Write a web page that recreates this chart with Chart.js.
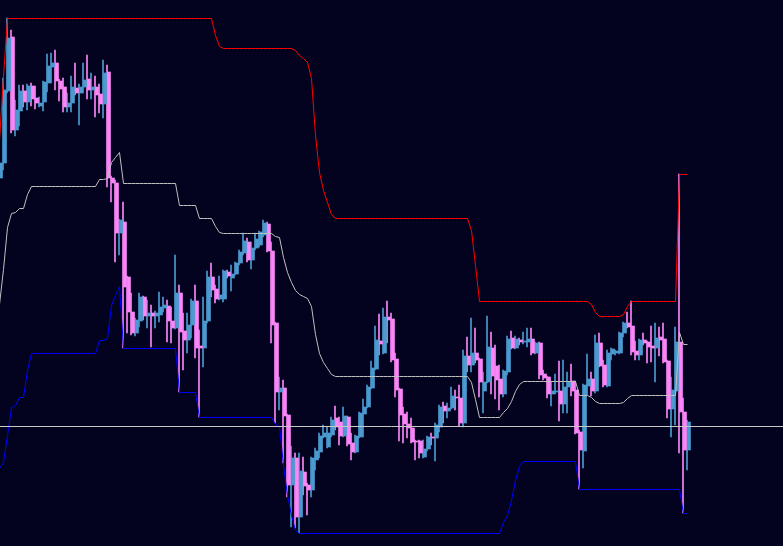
<!DOCTYPE html>
<html>
<head>
<meta charset="utf-8">
<title>Price channel</title>
<script src="https://cdn.jsdelivr.net/npm/chart.js@4.4.1/dist/chart.umd.min.js"></script>
<style>
  html, body { margin: 0; padding: 0; background: #03031f; overflow: hidden; }
  #wrap { width: 783px; height: 546px; }
</style>
</head>
<body>
<div id="wrap"><canvas id="chart" width="783" height="546"></canvas></div>
<script>
// ---- Data (price in points, one entry per bar, oldest first) ----
const opens = [
  368, 383, 455, 509, 416, 435, 455, 444, 460, 448,
  440, 444, 463, 479, 483, 465, 459, 439, 443, 458,
  453, 459, 467, 456, 459, 452, 442, 474, 368, 363,
  313, 324, 269, 234, 213, 225, 249, 230, 233, 230,
  231, 238, 240, 225, 218, 253, 215, 206, 221, 245,
  200, 198, 225, 269, 257, 247, 247, 274, 268, 272,
  283, 293, 304, 286, 298, 301, 311, 322, 295, 223,
  154, 158, 131, 61, 88, 29, 74, 61, 56, 86,
  94, 109, 99, 111, 128, 124, 110, 129, 103, 94,
  109, 132, 139, 158, 177, 205, 193, 229, 227, 187,
  157, 132, 122, 118, 105, 105, 89, 97, 109, 108,
  119, 140, 135, 138, 149, 148, 123, 190, 181, 193,
  187, 155, 164, 198, 180, 167, 152, 174, 208, 198,
  206, 204, 204, 207, 193, 203, 172, 169, 152, 154,
  155, 142, 159, 165, 156, 114, 95, 160, 167, 155,
  203, 181, 160, 192, 193, 193, 213, 223, 220, 195,
  191, 206, 204, 200, 198, 209, 207, 185, 137, 155,
  204, 134, 96
];
const highs = [
  386, 468, 528, 516, 446, 461, 461, 462, 463, 460,
  449, 465, 492, 493, 496, 467, 468, 453, 470, 483,
  462, 483, 491, 473, 470, 462, 486, 481, 370, 366,
  327, 344, 270, 253, 228, 253, 250, 246, 241, 235,
  254, 249, 246, 239, 291, 261, 233, 233, 247, 261,
  216, 249, 275, 283, 261, 270, 276, 276, 281, 284,
  296, 313, 308, 304, 313, 315, 326, 324, 304, 224,
  169, 166, 132, 100, 93, 93, 89, 63, 89, 98,
  113, 121, 119, 129, 140, 129, 139, 130, 113, 111,
  134, 147, 161, 185, 220, 232, 238, 245, 233, 193,
  158, 139, 134, 128, 106, 106, 106, 110, 113, 123,
  141, 144, 143, 159, 156, 161, 196, 209, 228, 218,
  188, 174, 230, 214, 201, 181, 176, 210, 215, 210,
  208, 214, 218, 218, 204, 204, 176, 170, 165, 172,
  185, 186, 174, 182, 165, 116, 162, 192, 174, 211,
  213, 186, 196, 198, 196, 214, 224, 234, 245, 205,
  207, 213, 205, 220, 223, 219, 223, 186, 169, 219,
  372, 148, 126
];
const lows = [
  364, 376, 453, 413, 410, 420, 439, 436, 440, 437,
  439, 435, 454, 463, 456, 445, 434, 434, 434, 451,
  421, 453, 447, 447, 429, 433, 428, 359, 344, 284,
  291, 198, 213, 211, 210, 219, 226, 218, 199, 218,
  224, 234, 204, 203, 217, 154, 176, 193, 208, 188,
  129, 179, 223, 249, 243, 246, 244, 268, 255, 271,
  281, 291, 284, 277, 296, 299, 309, 294, 203, 123,
  136, 83, 49, 19, 18, 13, 51, 31, 49, 76,
  88, 108, 98, 109, 116, 101, 109, 100, 86, 93,
  108, 109, 138, 157, 176, 191, 192, 203, 184, 149,
  105, 103, 108, 103, 86, 88, 88, 95, 101, 85,
  114, 123, 128, 137, 136, 120, 119, 174, 174, 183,
  149, 133, 163, 152, 147, 136, 149, 171, 197, 197,
  201, 202, 199, 191, 192, 167, 166, 148, 140, 152,
  125, 133, 133, 150, 112, 57, 78, 151, 150, 153,
  179, 159, 159, 186, 191, 192, 209, 218, 191, 186,
  186, 201, 183, 184, 164, 190, 183, 128, 109, 121,
  93, 33, 76
];
const closes = [
  383, 456, 508, 416, 436, 455, 444, 460, 447, 443,
  443, 464, 480, 483, 465, 457, 439, 443, 459, 453,
  459, 466, 456, 459, 451, 442, 473, 368, 363, 313,
  326, 259, 234, 213, 226, 249, 230, 233, 230, 233,
  239, 241, 225, 218, 253, 214, 206, 221, 245, 198,
  198, 225, 269, 256, 247, 251, 275, 270, 272, 283,
  294, 305, 286, 298, 307, 314, 323, 295, 221, 154,
  158, 130, 61, 88, 29, 75, 60, 56, 88, 95,
  110, 113, 113, 126, 119, 110, 130, 102, 94, 110,
  133, 139, 159, 178, 206, 202, 229, 226, 186, 156,
  131, 122, 118, 104, 104, 93, 97, 109, 108, 121,
  139, 135, 138, 150, 148, 123, 190, 181, 193, 186,
  164, 164, 199, 170, 166, 152, 175, 207, 198, 207,
  204, 205, 207, 193, 203, 171, 168, 152, 155, 155,
  142, 159, 164, 155, 113, 96, 161, 167, 155, 203,
  180, 161, 193, 197, 195, 213, 223, 219, 194, 191,
  206, 203, 199, 198, 208, 206, 184, 137, 156, 204,
  134, 96, 124
];

// Channel bands as drawn
const upperBand = [
  406, 470, 528, 528, 528, 528, 528, 528, 528, 528,
  528, 528, 528, 528, 528, 528, 528, 528, 528, 528,
  528, 528, 528, 528, 528, 528, 528, 528, 528, 528,
  528, 528, 528, 528, 528, 528, 528, 528, 528, 528,
  528, 528, 528, 528, 528, 528, 528, 528, 528, 528,
  528, 528, 528, 528, 511, 500, 498, 498, 498, 498,
  498, 498, 498, 498, 498, 498, 498, 498, 498, 498,
  498, 498, 498, 498, 496, 491, 488, 484, 468, 411,
  374, 356, 344, 332, 328, 328, 328, 328, 328, 328,
  328, 328, 328, 328, 328, 328, 328, 328, 328, 328,
  328, 328, 328, 328, 328, 328, 328, 328, 328, 328,
  328, 328, 328, 328, 328, 328, 328, 328, 316, 281,
  245, 245, 245, 245, 245, 245, 245, 245, 245, 245,
  245, 245, 245, 245, 245, 245, 245, 245, 245, 245,
  245, 245, 245, 245, 245, 245, 245, 245, 242, 234,
  230, 230, 230, 230, 230, 230, 232, 240, 245, 245,
  245, 245, 245, 245, 245, 245, 245, 245, 245, 245,
  372, 372, 372
];
const lowerBand = [
  78, 84, 111, 139, 141, 149, 149, 176, 193, 193,
  193, 193, 193, 193, 193, 193, 193, 193, 193, 193,
  193, 193, 193, 193, 193, 206, 206, 208, 241, 251,
  260, 198, 198, 198, 198, 198, 198, 198, 198, 198,
  198, 198, 198, 198, 198, 154, 154, 154, 154, 154,
  129, 129, 129, 129, 129, 129, 129, 129, 129, 129,
  129, 129, 129, 129, 129, 129, 129, 129, 129, 122,
  120, 81, 51, 31, 16, 13, 13, 13, 13, 13,
  13, 13, 13, 13, 13, 13, 13, 13, 13, 13,
  13, 13, 13, 13, 13, 13, 13, 13, 13, 13,
  13, 13, 13, 13, 13, 13, 13, 13, 13, 13,
  13, 13, 13, 13, 13, 13, 13, 13, 13, 13,
  13, 13, 13, 13, 13, 13, 24, 31, 46, 66,
  80, 85, 85, 85, 85, 85, 85, 85, 85, 85,
  85, 85, 85, 85, 85, 57, 57, 57, 57, 57,
  57, 57, 57, 57, 57, 57, 57, 57, 57, 57,
  57, 57, 57, 57, 57, 57, 57, 57, 57, 57,
  57, 33, 33
];
const levelLine = 120;   // horizontal price level

// ---- Colours ----
const UP_COLOR  = '#4b9bd1';
const DN_COLOR  = '#fa86f8';
const UPPER_CLR = '#ff0000';
const LOWER_CLR = '#0000ff';
const MID_CLR   = '#c0c0c0';
const LEVEL_CLR = '#c8c8c8';

// visible window in bar units (4px per bar)
const X_MIN = 0.125;
const X_MAX = 195.875;

// ---- Build datasets ----
const barColors = opens.map((o, i) => closes[i] >= o ? UP_COLOR : DN_COLOR);
const bodies = opens.map((o, i) => ({ x: i, y: [o, closes[i]] }));
const wicks  = opens.map((_, i) => ({ x: i, y: [lows[i], highs[i]] }));
const upperPts = upperBand.map((v, i) => ({ x: i, y: v }));
const lowerPts = lowerBand.map((v, i) => ({ x: i, y: v }));
// middle line of the channel = average of the two bands (whole points)
const middlePts = upperBand.map((v, i) => ({ x: i, y: Math.floor((v + lowerBand[i]) / 2) }));
const levelPts = [{ x: X_MIN, y: levelLine }, { x: X_MAX, y: levelLine }];

const lineStyle = {
  type: 'line',
  xAxisID: 'x',
  yAxisID: 'yl',
  borderWidth: 1,
  pointRadius: 0,
  pointHitRadius: 0,
  tension: 0,
  fill: false,
};

new Chart(document.getElementById('chart'), {
  type: 'bar',
  data: {
    datasets: [
      {
        label: 'wicks',
        data: wicks,
        xAxisID: 'xw',
        yAxisID: 'y',
        backgroundColor: barColors,
        barThickness: 1,
        minBarLength: 1,
        borderWidth: 0,
        order: 4,
      },
      {
        label: 'bodies',
        data: bodies,
        xAxisID: 'x',
        yAxisID: 'y',
        backgroundColor: barColors,
        barThickness: 3,
        minBarLength: 1,
        borderWidth: 0,
        order: 3,
      },
      { ...lineStyle, label: 'upper', data: upperPts, borderColor: UPPER_CLR, order: 1 },
      { ...lineStyle, label: 'lower', data: lowerPts, borderColor: LOWER_CLR, order: 1 },
      { ...lineStyle, label: 'middle', data: middlePts, borderColor: MID_CLR, order: 1 },
      { ...lineStyle, label: 'level', data: levelPts, borderColor: LEVEL_CLR, order: 0 },
    ],
  },
  options: {
    responsive: false,
    maintainAspectRatio: false,
    animation: false,
    events: [],
    layout: { padding: 0 },
    plugins: { legend: { display: false }, tooltip: { enabled: false } },
    scales: {
      x:  { type: 'linear', axis: 'x', min: X_MIN, max: X_MAX, offset: false, display: false },
      xw: { type: 'linear', axis: 'x', min: X_MIN, max: X_MAX, offset: false, display: false },
      y:  { type: 'linear', axis: 'y', min: 0, max: 546, display: false },
      yl: { type: 'linear', axis: 'y', min: 0.5, max: 546.5, display: false },
    },
  },
});
</script>
</body>
</html>
